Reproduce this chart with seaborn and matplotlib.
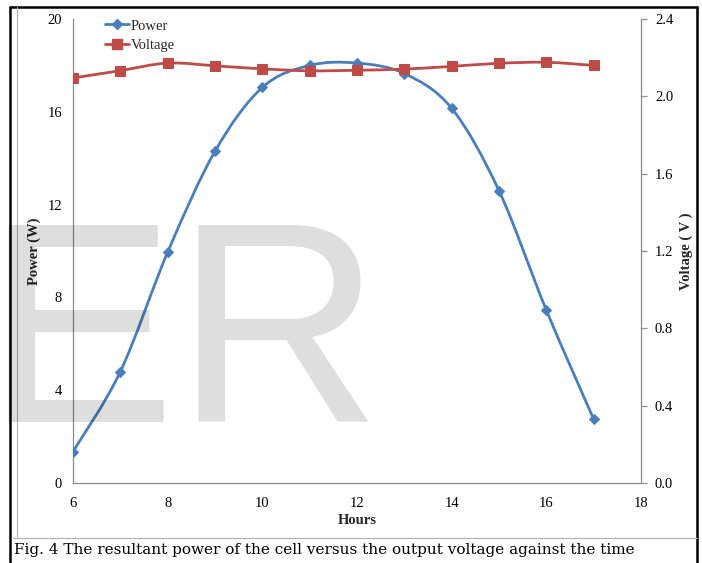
import numpy as np
import pandas as pd
import seaborn as sns
import matplotlib
matplotlib.use("Agg")
import matplotlib.pyplot as plt
from matplotlib.path import Path
from matplotlib.patches import PathPatch
from matplotlib.lines import Line2D

hours = [6, 7, 8, 9, 10, 11, 12, 13, 14, 15, 16, 17]
power = [1.35, 4.8, 9.95, 14.3, 17.05, 18.0, 18.1, 17.65, 16.15, 12.6, 7.45, 2.75]
voltage = [2.095, 2.133, 2.172, 2.158, 2.142, 2.132, 2.135, 2.141, 2.155, 2.171, 2.176, 2.160]
left_ticks = [0, 4, 8, 12, 16, 20]
right_ticks = [0.0, 0.4, 0.8, 1.2, 1.6, 2.0, 2.4]
x_ticks = [6, 8, 10, 12, 14, 16, 18]

BLUE = "#4A7EBB"
RED = "#BE4B48"
GRAY = "#8c8c8c"

sns.set_theme(style="white")
plt.rcParams["font.family"] = ["Liberation Serif", "DejaVu Serif"]

df = pd.DataFrame({"Hours": hours, "Power": power, "Voltage": voltage})

fig = plt.figure(figsize=(7.02, 5.63), dpi=100)
ax = fig.add_axes([73 / 702, 80 / 563, 568 / 702, 464 / 563])
ax2 = ax.twinx()


def smooth_path(xs, ys):
    pts = np.column_stack([xs, ys]).astype(float)
    n = len(pts)
    verts = [pts[0]]
    codes = [Path.MOVETO]
    for i in range(n - 1):
        p0 = pts[i - 1] if i > 0 else pts[i]
        p1 = pts[i]
        p2 = pts[i + 1]
        p3 = pts[i + 2] if i + 2 < n else pts[i + 1]
        c1 = p1 + (p2 - p0) / 6.0
        c2 = p2 - (p3 - p1) / 6.0
        verts += [c1, c2, p2]
        codes += [Path.CURVE4] * 3
    return Path(verts, codes)


ax.add_patch(PathPatch(smooth_path(df["Hours"], df["Power"]), fill=False,
                       edgecolor=BLUE, lw=2.0, zorder=3, capstyle="round"))
sns.lineplot(data=df, x="Hours", y="Power", ax=ax, marker="D", markersize=5,
             color=BLUE, linestyle="none", markeredgecolor=BLUE, zorder=4)

ax2.add_patch(PathPatch(smooth_path(df["Hours"], df["Voltage"]), fill=False,
                        edgecolor=RED, lw=2.0, zorder=3, capstyle="round"))
sns.lineplot(data=df, x="Hours", y="Voltage", ax=ax2, marker="s", markersize=6.5,
             color=RED, linestyle="none", markeredgecolor=RED, zorder=4)

ax.set_xlim(6, 18)
ax.set_ylim(0, 20)
ax2.set_ylim(0, 2.4)
ax.set_xticks(x_ticks)
ax.set_yticks(left_ticks)
ax2.set_yticks(right_ticks)
ax2.set_yticklabels([f"{v:.1f}" for v in right_ticks])

for a in (ax, ax2):
    for s in a.spines.values():
        s.set_color(GRAY)
        s.set_linewidth(0.9)
    a.spines["top"].set_visible(False)
    a.grid(False)
    a.set_facecolor("none")
ax2.spines["left"].set_visible(False)
ax2.spines["bottom"].set_visible(False)
ax.spines["right"].set_visible(False)

ax.tick_params(axis="x", length=0, pad=10, labelsize=10.5, colors="black")
ax.tick_params(axis="y", length=0, pad=8, labelsize=10.5, colors="black")
ax2.tick_params(axis="y", length=4, width=0.9, color=GRAY, pad=6, labelsize=10.5,
                labelcolor="black", direction="out", right=True)

ax.set_xlabel("Hours", fontsize=10.5, fontweight="bold")
ax.set_ylabel("Power (W)", fontsize=10.5, fontweight="bold")
ax2.set_ylabel("Voltage ( V )", fontsize=10.5, fontweight="bold")
ax.xaxis.set_label_coords(0.5, -0.0668)
ax.yaxis.set_label_coords(-0.0563, 0.5)
ax2.yaxis.set_label_coords(1.068, 0.5)

handles = [Line2D([], [], color=BLUE, lw=2, marker="D", markersize=5),
           Line2D([], [], color=RED, lw=2, marker="s", markersize=6.5)]
fig.legend(handles, ["Power", "Voltage"], loc="upper left",
           bbox_to_anchor=(98 / 702, 1 - 12 / 563), frameon=False,
           fontsize=10.5, handlelength=1.6, handletextpad=0.15,
           labelspacing=0.45, borderpad=0)

# watermark
fig.text(-16 / 702, 1 - 422 / 563, "ER", fontsize=206, family="Liberation Sans",
         color="black", alpha=0.13, ha="left", va="baseline", zorder=10)

# frame lines
W, H = 702.0, 563.0
def fl(x0, y0, x1, y1, color, lw):
    fig.add_artist(Line2D([x0 / W, x1 / W], [1 - y0 / H, 1 - y1 / H],
                          color=color, lw=lw, transform=fig.transFigure))

fl(10, 7, 697, 7, "black", 1.8)
fl(10, 7, 10, 563, "black", 1.8)
fl(697, 7, 697, 563, "black", 1.8)
fl(17, 7, 17, 538, "#b0b0b0", 0.8)
fl(13, 538, 697, 538, "#b0b0b0", 0.8)

fig.text(14 / W, 1 - 550 / H, "Fig. 4 The resultant power of the cell versus the output voltage against the time",
         fontsize=11, family=["DejaVu Serif"], color="black", ha="left", va="center")

fig.savefig("out.png", dpi=100)
